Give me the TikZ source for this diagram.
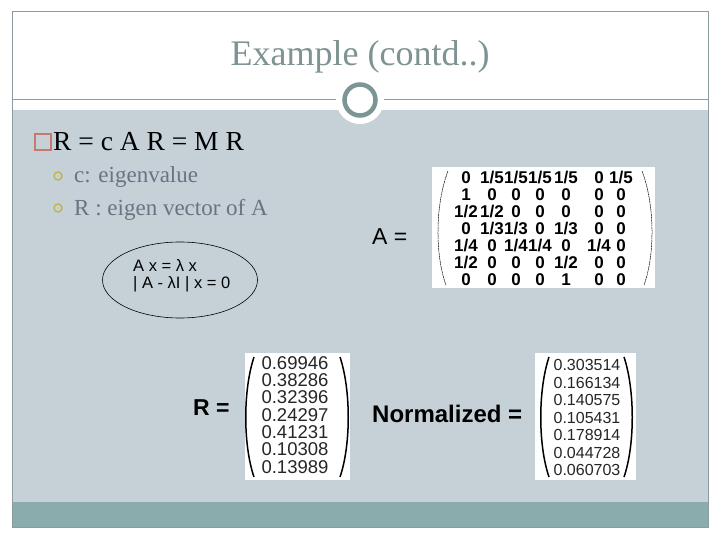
\documentclass[tikz,border=0pt]{standalone}
\usepackage{fontspec}
\setmainfont{Liberation Serif}
\setsansfont{Liberation Sans}
\usetikzlibrary{shapes.geometric}
\definecolor{bgpanel}{HTML}{C5D1D7}
\definecolor{bandc}{HTML}{8AACAC}
\definecolor{framec}{HTML}{8A9C9E}
\definecolor{ringc}{HTML}{7C9696}
\definecolor{titlec}{HTML}{7E9393}
\definecolor{subtext}{HTML}{6A7383}
\definecolor{bulletc}{HTML}{BDB54A}
\definecolor{sqc}{HTML}{C8796F}
\tikzset{
  aentry/.style={font=\sffamily\bfseries\fontsize{17}{17}\selectfont, inner sep=0pt, anchor=center},
  ventry/.style={font=\sffamily\fontsize{18.5}{18.5}\selectfont, inner sep=0pt, text=black!85},
  nentry/.style={font=\sffamily\fontsize{16}{16}\selectfont, inner sep=0pt, text=black!85},
  subtxt/.style={font=\fontsize{23}{23}\selectfont, text=subtext, anchor=base west, inner sep=0pt},
  subdot/.style={draw=bulletc, line width=1.4pt, circle, minimum size=8pt, inner sep=0pt},
  paren/.style={line width=1.5pt},
  thinparen/.style={line width=0.5pt, dash pattern=on 2pt off 0.6pt},
  lbl/.style={font=\sffamily\fontsize{23}{23}\selectfont, inner sep=0pt},
  eqtxt/.style={font=\sffamily\fontsize{16.5}{16.5}\selectfont, anchor=west, inner sep=0pt}
}
\begin{document}
\begin{tikzpicture}[x=1pt,y=-1pt]
\useasboundingbox (0,0) rectangle (720,540);
\fill[white] (0,0) rectangle (720,540);
\fill[bgpanel] (12,110) rectangle (708,502);
\fill[bandc] (12,502) rectangle (708,527);
\draw[framec, line width=1pt] (12,12) rectangle (708,527);
\draw[framec, line width=1pt] (12,100) -- (708,100);
\fill[white] (360,100) circle (24);
\draw[ringc, line width=4.5pt] (360,100) circle (15.5);

\node[text=titlec, font=\fontsize{36}{36}\selectfont, inner sep=0pt] (title) at (360,57) {Example (contd..)};

\node[draw=sqc, line width=1.5pt, minimum size=16pt, inner sep=0pt] (sq) at (43,142) {};
\node[font=\fontsize{27.5}{27.5}\selectfont, anchor=base west, inner sep=0pt] (eq) at (53,151) {R = c A R = M R};

\node[subdot] (b1) at (58,176) {};
\node[subtxt] (t1) at (74,183) {c: eigenvalue};
\node[subdot] (b2) at (58,208) {};
\node[subtxt] (t2) at (74,215) {R : eigen vector of A};

\node[draw, ellipse, line width=0.6pt, minimum width=155pt, minimum height=76pt] (ell) at (180,280) {};
\node[eqtxt] (e1) at (133,266) {A x = λ x};
\node[eqtxt] (e2) at (133,284) {| A - λI | x = 0};

% matrix A
\node[lbl, anchor=west] (alabel) at (372,237) {A =};
\fill[white] (432,167) rectangle (655,288);
\draw[thinparen] (448,171) .. controls (435,205) and (435,255) .. (446,285);
\draw[thinparen] (642,171) .. controls (655,205) and (655,255) .. (644,285);
\foreach \row [count=\r] in {
  {0,1/5,1/5,1/5,1/5,0,1/5},
  {1,0,0,0,0,0,0},
  {1/2,1/2,0,0,0,0,0},
  {0,1/3,1/3,0,1/3,0,0},
  {1/4,0,1/4,1/4,0,1/4,0},
  {1/2,0,0,0,1/2,0,0},
  {0,0,0,0,1,0,0}} {
  \foreach \v [count=\c] in \row {
    \pgfmathsetmacro{\xx}{{466,492,516,540,566,599,621}[\c-1]}
    \node[aentry] (a-\r-\c) at (\xx, 178+17*\r-17) {\v};
  }
}

% R vector
\node[lbl, font=\sffamily\bfseries\fontsize{23}{23}\selectfont, anchor=west] (rlabel) at (193,408) {R =};
\fill[white] (245,353) rectangle (350,480);
\draw[paren] (254,357) .. controls (243,390) and (243,445) .. (254,477);
\draw[paren] (340,357) .. controls (351,390) and (351,445) .. (340,477);
\foreach \v [count=\r] in {0.69946,0.38286,0.32396,0.24297,0.41231,0.10308,0.13989} {
  \node[ventry] (r-\r) at (295, 363+17.3*\r-17.3) {\v};
}

% normalized vector
\node[lbl, font=\sffamily\bfseries\fontsize{24}{24}\selectfont, anchor=west] (nlabel) at (372,414) {Normalized =};
\fill[white] (535,353) rectangle (636,480);
\draw[paren] (549,357) .. controls (538,390) and (538,445) .. (549,477);
\draw[paren] (624,357) .. controls (635,390) and (635,445) .. (624,477);
\foreach \v [count=\r] in {0.303514,0.166134,0.140575,0.105431,0.178914,0.044728,0.060703} {
  \node[nentry] (n-\r) at (587, 365+17.5*\r-17.5) {\v};
}
\end{tikzpicture}
\end{document}
